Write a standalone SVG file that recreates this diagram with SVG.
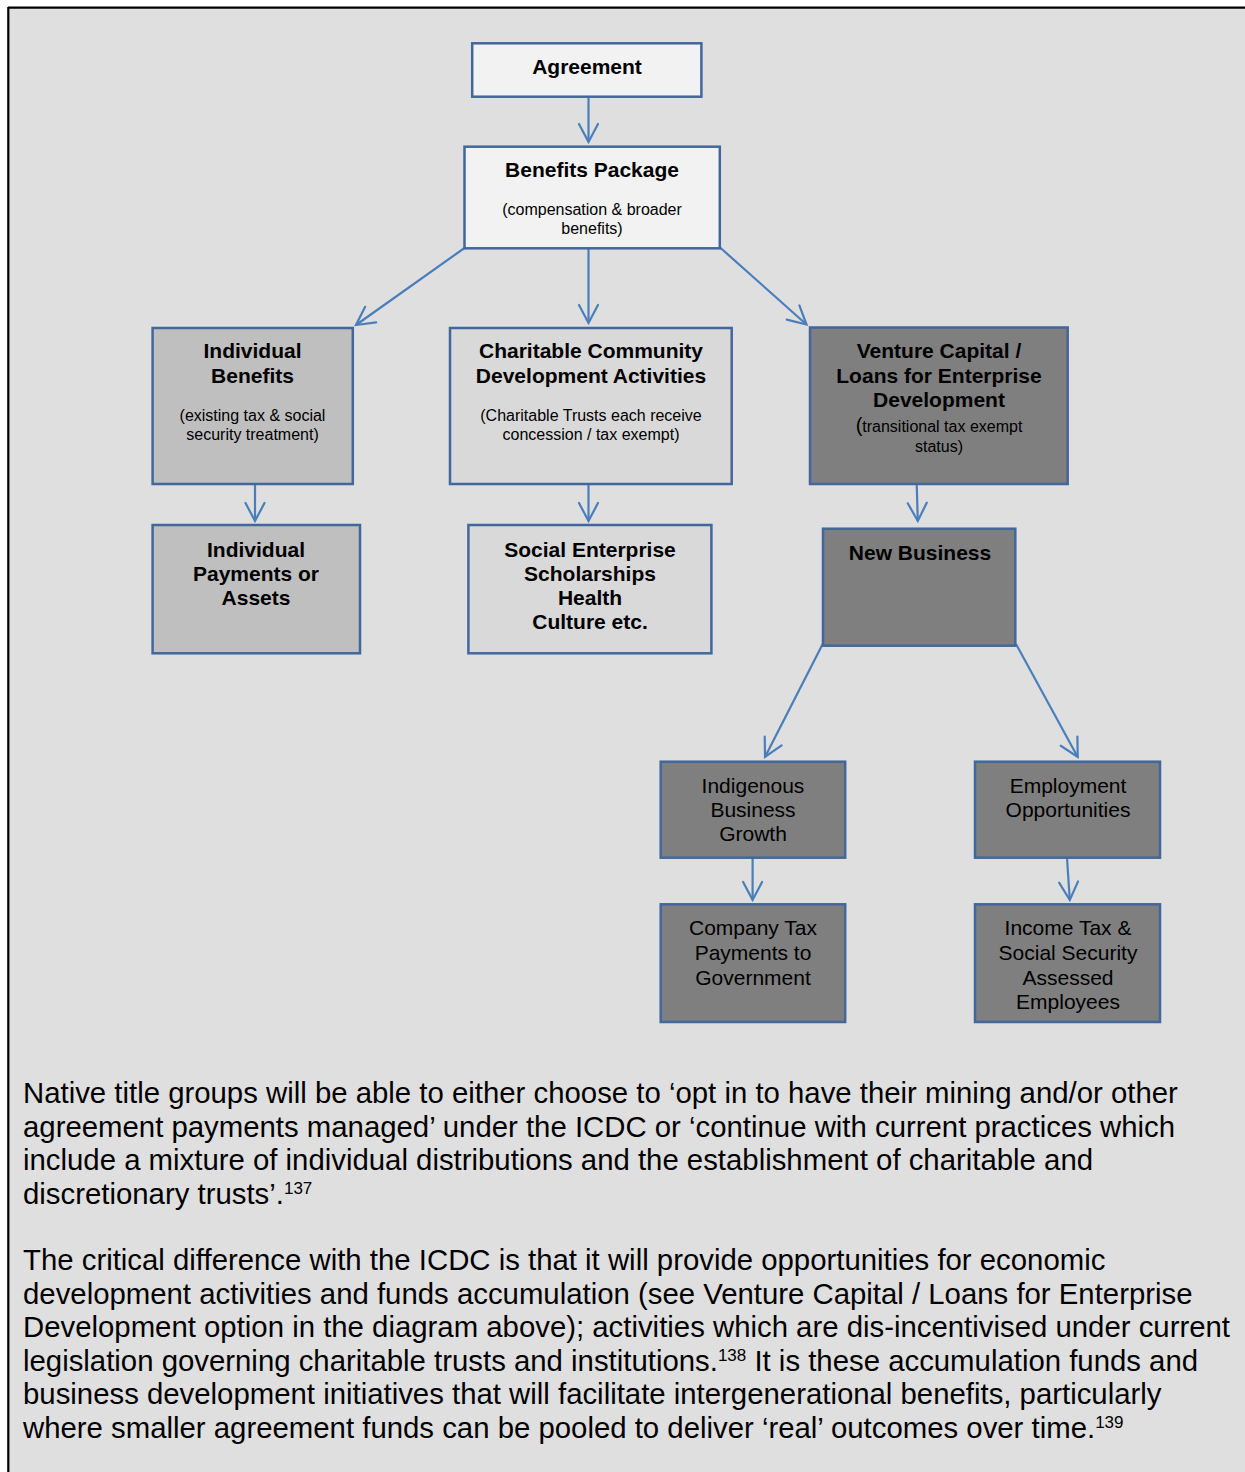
<svg xmlns="http://www.w3.org/2000/svg" width="1245" height="1472" viewBox="0 0 1245 1472">
<style>
.box{stroke:#41679c;stroke-width:2.5}
.light{fill:#f2f2f2}
.mid{fill:#bfbfbf}
.pale{fill:#d9d9d9}
.dark{fill:#7f7f7f}
text{font-family:"Liberation Sans",Arial,sans-serif;fill:#000}
.t{font-size:21px;font-weight:bold;text-anchor:middle}
.s{font-size:16px;text-anchor:middle}
.r{font-size:21px;text-anchor:middle}
.p{font-size:29.35px}
.conn{stroke:#4a7ebb;stroke-width:2.2;fill:none;marker-end:url(#arr)}
</style>
<defs>
<marker id="arr" markerUnits="userSpaceOnUse" viewBox="-22 -12 26 24" refX="0" refY="0" markerWidth="26" markerHeight="24" orient="auto">
<path d="M-18,-9.5 L0,0 L-18,9.5" fill="none" stroke="#4a7ebb" stroke-width="2.2" stroke-linecap="round" stroke-linejoin="miter"/>
</marker>
</defs>
<rect x="0" y="0" width="1245" height="1472" fill="#ffffff"/>
<rect x="8" y="8" width="1237" height="1464" fill="#dfdfdf"/>
<line x1="8" y1="7.7" x2="1245" y2="7.7" stroke="#000" stroke-width="2.2"/>
<line x1="8.3" y1="7" x2="8.3" y2="1472" stroke="#000" stroke-width="2.2"/>

<g id="connectors">
<line class="conn" x1="588.5" y1="94" x2="588.5" y2="142"/>
<line class="conn" x1="464.5" y1="248" x2="356" y2="325"/>
<line class="conn" x1="588.5" y1="248" x2="588.5" y2="323"/>
<line class="conn" x1="719.5" y1="247" x2="806.5" y2="324.5"/>
<line class="conn" x1="255" y1="484" x2="255" y2="521"/>
<line class="conn" x1="588.5" y1="484" x2="588.5" y2="521"/>
<line class="conn" x1="916.7" y1="484" x2="917.8" y2="521"/>
<line class="conn" x1="822.7" y1="644" x2="765" y2="757"/>
<line class="conn" x1="1016" y1="644" x2="1077.7" y2="757"/>
<line class="conn" x1="752.6" y1="858" x2="752.6" y2="900"/>
<line class="conn" x1="1067" y1="858" x2="1069.8" y2="900"/>
</g>

<g id="agreement">
<rect class="box light" x="472.2" y="43.3" width="229.2" height="53.4"/>
<text class="t" x="587" y="74">Agreement</text>
</g>

<g id="benefits-package">
<rect class="box light" x="464.5" y="146.7" width="255.3" height="101.6"/>
<text class="t" x="592" y="177">Benefits Package</text>
<text class="s" x="592" y="214.5">(compensation &amp; broader</text>
<text class="s" x="592" y="233.5">benefits)</text>
</g>

<g id="individual-benefits">
<rect class="box mid" x="152.6" y="328" width="200.2" height="156"/>
<text class="t" x="252.5" y="358.3">Individual</text>
<text class="t" x="252.5" y="382.7">Benefits</text>
<text class="s" x="252.5" y="421">(existing tax &amp; social</text>
<text class="s" x="252.5" y="440">security treatment)</text>
</g>

<g id="charitable">
<rect class="box pale" x="450" y="328" width="281.7" height="156"/>
<text class="t" x="591" y="358.3">Charitable Community</text>
<text class="t" x="591" y="382.7">Development Activities</text>
<text class="s" x="591" y="421">(Charitable Trusts each receive</text>
<text class="s" x="591" y="440">concession / tax exempt)</text>
</g>

<g id="venture-capital">
<rect class="box dark" x="810" y="327.5" width="257.7" height="156.5"/>
<text class="t" x="939" y="358.3">Venture Capital /</text>
<text class="t" x="939" y="382.7">Loans for Enterprise</text>
<text class="t" x="939" y="407.3">Development</text>
<text class="s" x="939" y="431.7"><tspan font-size="20">(</tspan>transitional tax exempt</text>
<text class="s" x="939" y="451.7">status)</text>
</g>

<g id="individual-payments">
<rect class="box mid" x="152.6" y="525" width="207.4" height="128.3"/>
<text class="t" x="256" y="556.7">Individual</text>
<text class="t" x="256" y="580.7">Payments or</text>
<text class="t" x="256" y="605">Assets</text>
</g>

<g id="social-enterprise">
<rect class="box pale" x="468.4" y="525" width="243" height="128.3"/>
<text class="t" x="590" y="556.7">Social Enterprise</text>
<text class="t" x="590" y="580.7">Scholarships</text>
<text class="t" x="590" y="605">Health</text>
<text class="t" x="590" y="629.3">Culture etc.</text>
</g>

<g id="new-business">
<rect class="box dark" x="823" y="528.7" width="192.3" height="117"/>
<text class="t" x="920" y="560">New Business</text>
</g>

<g id="indigenous-growth">
<rect class="box dark" x="660.7" y="761.7" width="184.5" height="96"/>
<text class="r" x="753" y="793.3">Indigenous</text>
<text class="r" x="753" y="817">Business</text>
<text class="r" x="753" y="841">Growth</text>
</g>

<g id="employment">
<rect class="box dark" x="975" y="761.7" width="185" height="96"/>
<text class="r" x="1068" y="793.3">Employment</text>
<text class="r" x="1068" y="817">Opportunities</text>
</g>

<g id="company-tax">
<rect class="box dark" x="660.7" y="904.3" width="184.5" height="117.7"/>
<text class="r" x="753" y="935">Company Tax</text>
<text class="r" x="753" y="960">Payments to</text>
<text class="r" x="753" y="984.5">Government</text>
</g>

<g id="income-tax">
<rect class="box dark" x="975" y="904.3" width="185" height="117.7"/>
<text class="r" x="1068" y="935">Income Tax &amp;</text>
<text class="r" x="1068" y="960">Social Security</text>
<text class="r" x="1068" y="984.5">Assessed</text>
<text class="r" x="1068" y="1008.5">Employees</text>
</g>

<g id="paragraphs">
<text class="p" x="23" y="1103">Native title groups will be able to either choose to ‘opt in to have their mining and/or other</text>
<text class="p" x="23" y="1136.6">agreement payments managed’ under the ICDC or ‘continue with current practices which</text>
<text class="p" x="23" y="1170.2">include a mixture of individual distributions and the establishment of charitable and</text>
<text class="p" x="23" y="1203.8">discretionary trusts’.<tspan font-size="17" dy="-10">137</tspan></text>
<text class="p" x="23" y="1270">The critical difference with the ICDC is that it will provide opportunities for economic</text>
<text class="p" x="23" y="1303.6">development activities and funds accumulation (see Venture Capital / Loans for Enterprise</text>
<text class="p" x="23" y="1337.2">Development option in the diagram above); activities which are dis-incentivised under current</text>
<text class="p" x="23" y="1370.8">legislation governing charitable trusts and institutions.<tspan font-size="17" dy="-10">138</tspan><tspan dy="10"> It is these accumulation funds and</tspan></text>
<text class="p" x="23" y="1404.4">business development initiatives that will facilitate intergenerational benefits, particularly</text>
<text class="p" x="23" y="1438">where smaller agreement funds can be pooled to deliver ‘real’ outcomes over time.<tspan font-size="17" dy="-10">139</tspan></text>
</g>
</svg>
